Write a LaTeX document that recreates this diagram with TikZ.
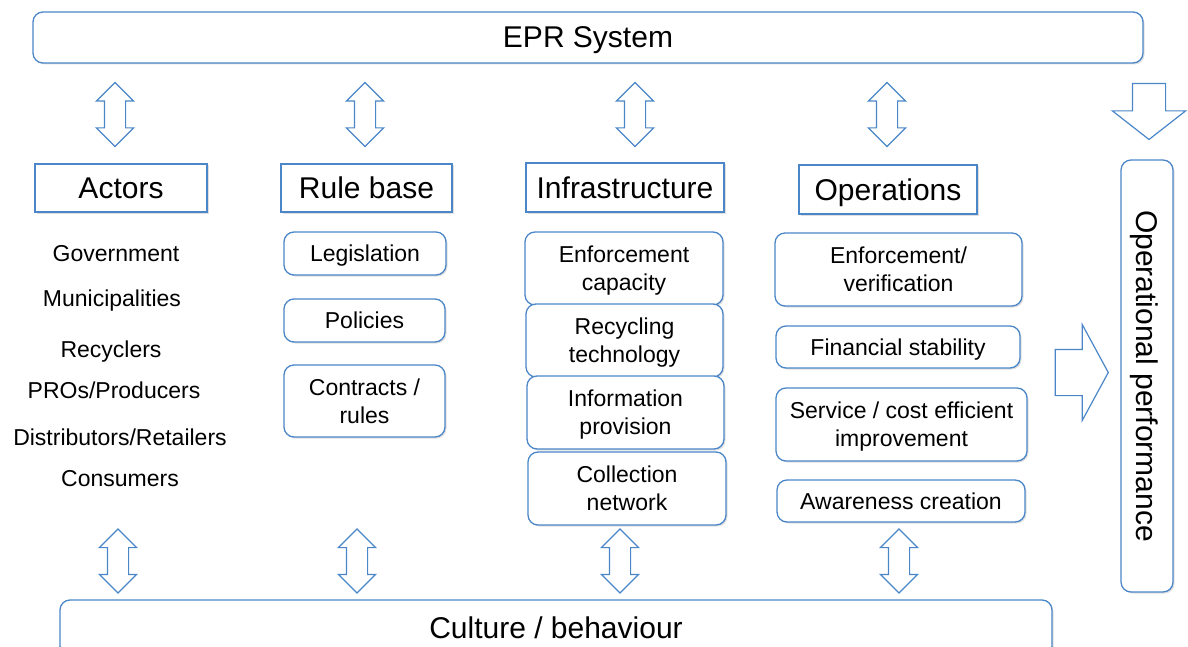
\documentclass[tikz,border=0pt]{standalone}
\usepackage{fontspec}
\setmainfont{Liberation Sans}
\usepackage{tikz}
\usetikzlibrary{shapes.arrows,%
                shadows}
\definecolor{eprblue}{RGB}{74,134,200}

\begin{document}
\begin{tikzpicture}[x=1pt,y=-1pt]
  \tikzstyle{ShadowStyle}=[drop shadow={shadow xshift=1.5pt,shadow yshift=-1.5pt,opacity=0.25}]
  \tikzstyle{BoxStyle}=[draw=eprblue,line width=1.3pt,fill=white,rounded corners=10pt,align=center,
    inner sep=2pt,text depth=0pt,font=\fontsize{23}{28}\selectfont,ShadowStyle]
  \tikzstyle{BigStyle}=[BoxStyle,font=\fontsize{30}{34}\selectfont]
  \tikzstyle{HeadStyle}=[BigStyle,rounded corners=0pt]
  \tikzstyle{ListStyle}=[text depth=0pt,font=\fontsize{23}{28}\selectfont]
  \tikzstyle{LinkStyle}=[double arrow,draw=eprblue,line width=1.2pt,fill=white,inner sep=0pt,
    inner ysep=10pt,double arrow head extend=8pt,minimum height=64pt,rotate=90]
  \tikzstyle{FlowStyle}=[single arrow,draw=eprblue,line width=1.2pt,fill=white,inner sep=0pt]
  \clip (0,0) rectangle (1188,647);
  % top and bottom bars
  \node[BigStyle,minimum width=1110pt,minimum height=51pt] (epr) at (588,37.5) {EPR System};
  \node[BigStyle,minimum width=992pt,minimum height=56pt] (culture) at (556,628) {Culture / behaviour};
  % column heads
  \node[HeadStyle,minimum width=172pt,minimum height=48pt] (actors) at (121,188) {Actors};
  \node[HeadStyle,minimum width=171pt,minimum height=48pt] (rules) at (366.5,188) {Rule base};
  \node[HeadStyle,minimum width=198pt,minimum height=49pt] (infra) at (625,187.5) {Infrastructure};
  \node[HeadStyle,minimum width=178pt,minimum height=49pt] (ops) at (888,189.5) {Operations};
  % actors
  \node[ListStyle] (gov) at (116,253) {Government};
  \node[ListStyle] (muni) at (112,298) {Municipalities};
  \node[ListStyle] (recy) at (111,349) {Recyclers};
  \node[ListStyle] (pros) at (114,390) {PROs/Producers};
  \node[ListStyle] (dist) at (120,437) {Distributors/Retailers};
  \node[ListStyle] (cons) at (120,478) {Consumers};
  % rule base
  \node[BoxStyle,minimum width=162pt,minimum height=43pt] (legis) at (365,253.5) {Legislation};
  \node[BoxStyle,minimum width=161pt,minimum height=43pt] (pol) at (364.5,320.5) {Policies};
  \node[BoxStyle,minimum width=161pt,minimum height=72pt] (contr) at (364.5,401) {Contracts /\\rules};
  % infrastructure
  \node[BoxStyle,minimum width=198pt,minimum height=73pt] (enfcap) at (624,268.5) {Enforcement\\capacity};
  \node[BoxStyle,minimum width=197pt,minimum height=73pt] (tech) at (624.5,340.5) {Recycling\\technology};
  \node[BoxStyle,minimum width=197pt,minimum height=73pt] (info) at (625.5,412.5) {Information\\provision};
  \node[BoxStyle,minimum width=198pt,minimum height=73pt] (coll) at (627,488.5) {Collection\\network};
  % operations
  \node[BoxStyle,minimum width=247pt,minimum height=73pt] (enfver) at (898.5,269.5) {Enforcement/\\verification};
  \node[BoxStyle,minimum width=244pt,minimum height=42pt] (fin) at (898,347) {Financial stability};
  \node[BoxStyle,minimum width=251pt,minimum height=73pt] (serv) at (901.5,424.5) {Service / cost efficient\\improvement};
  \node[BoxStyle,minimum width=248pt,minimum height=42pt] (aware) at (901,501) {Awareness creation};
  % performance
  \node[BigStyle,rotate=-90,minimum width=432pt,minimum height=52pt] (perf) at (1147,376) {Operational performance};
  \node[FlowStyle,minimum height=56pt,inner ysep=16pt,single arrow head extend=20pt,
    single arrow tip angle=104,rotate=-90] (down) at (1149,105) {};
  \node[FlowStyle,minimum height=53pt,inner ysep=22.5pt,single arrow head extend=25pt,
    single arrow tip angle=123] (right) at (1075.5,372.5) {};
  % links
  \node[LinkStyle] (l1) at (115,114.5) {};
  \node[LinkStyle] (l2) at (365,114.5) {};
  \node[LinkStyle] (l3) at (635,114.5) {};
  \node[LinkStyle] (l4) at (887,114.5) {};
  \node[LinkStyle] (b1) at (118,561) {};
  \node[LinkStyle] (b2) at (357,561) {};
  \node[LinkStyle] (b3) at (620,561) {};
  \node[LinkStyle] (b4) at (899,561) {};
\end{tikzpicture}
\end{document}
